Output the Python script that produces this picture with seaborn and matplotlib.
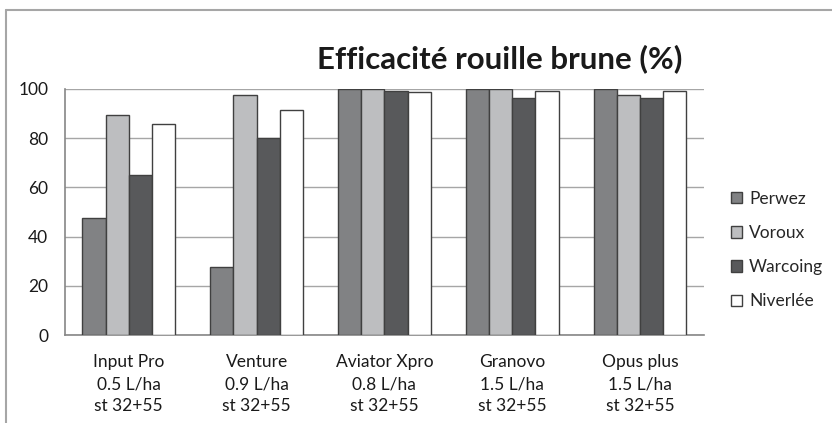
import pandas as pd
import matplotlib.pyplot as plt
import seaborn as sns
from matplotlib.lines import Line2D

# values
products = ['Input Pro\n0.5 L/ha\nst 32+55', 'Venture\n0.9 L/ha\nst 32+55',
            'Aviator Xpro\n0.8 L/ha\nst 32+55', 'Granovo\n1.5 L/ha\nst 32+55',
            'Opus plus\n1.5 L/ha\nst 32+55']
sites = ['Perwez', 'Voroux', 'Warcoing', 'Niverlée']
perwez = [47.7, 27.5, 100, 100, 100]
voroux = [89.4, 97.4, 100, 100, 97.4]
warcoing = [64.8, 80.1, 99.2, 96.3, 96.3]
niverlee = [85.8, 91.3, 98.6, 99.2, 99.2]
colors = ['#808285', '#BCBEC0', '#58595B', '#FFFFFF']

rows = []
for site, vals in zip(sites, [perwez, voroux, warcoing, niverlee]):
    for p, v in zip(products, vals):
        rows.append({'Produit': p, 'Site': site, 'Efficacite': v})
df = pd.DataFrame(rows)

sns.set_style('white')
plt.rcParams['font.family'] = ['Lato', 'DejaVu Sans']

fig = plt.figure(figsize=(8.32, 4.23), dpi=100)
ax = fig.add_axes([0.078, 0.208, 0.768, 0.582])

sns.barplot(data=df, x='Produit', y='Efficacite', hue='Site', order=products,
            hue_order=sites, palette=colors, width=0.725, gap=0,
            edgecolor='#404040', linewidth=1, errorbar=None, ax=ax, zorder=3)

ax.set_ylim(0, 100)
ax.set_yticks([0, 20, 40, 60, 80, 100])
ax.set_xlim(-0.5, 4.5)
ax.grid(axis='y', color='#A6A6A6', linewidth=1, zorder=0)
ax.set_axisbelow(True)
for s in ['top', 'right']:
    ax.spines[s].set_visible(False)
for s in ['left', 'bottom']:
    ax.spines[s].set_color('#868686')
    ax.spines[s].set_linewidth(1.2)
ax.tick_params(axis='y', length=0, pad=12, labelsize=12.5, labelcolor='#1a1a1a')
ax.tick_params(axis='x', length=0, pad=14, labelsize=12.5, labelcolor='#1a1a1a')
for t in ax.get_xticklabels():
    t.set_linespacing(1.45)
ax.set_xlabel('')
ax.set_ylabel('')

handles, labels = ax.get_legend_handles_labels()
ax.legend(handles, labels, loc='center left', bbox_to_anchor=(1.018, 0.345),
          frameon=False, handlelength=0.65, handleheight=0.65,
          handletextpad=0.4, labelspacing=1.05, fontsize=12.5)

fig.text(0.601, 0.862, 'Efficacité rouille brune (%)', ha='center', va='center',
         fontsize=22.5, fontweight='bold', color='#1a1a1a')

# outer chart frame
fig.add_artist(Line2D([6 / 832, 1.0], [1 - 10 / 423, 1 - 10 / 423],
                      color='#A6A6A6', linewidth=1.5))
fig.add_artist(Line2D([6 / 832, 6 / 832], [0.0, 1 - 10 / 423],
                      color='#A6A6A6', linewidth=1.5))

fig.savefig('out.png', dpi=100)
